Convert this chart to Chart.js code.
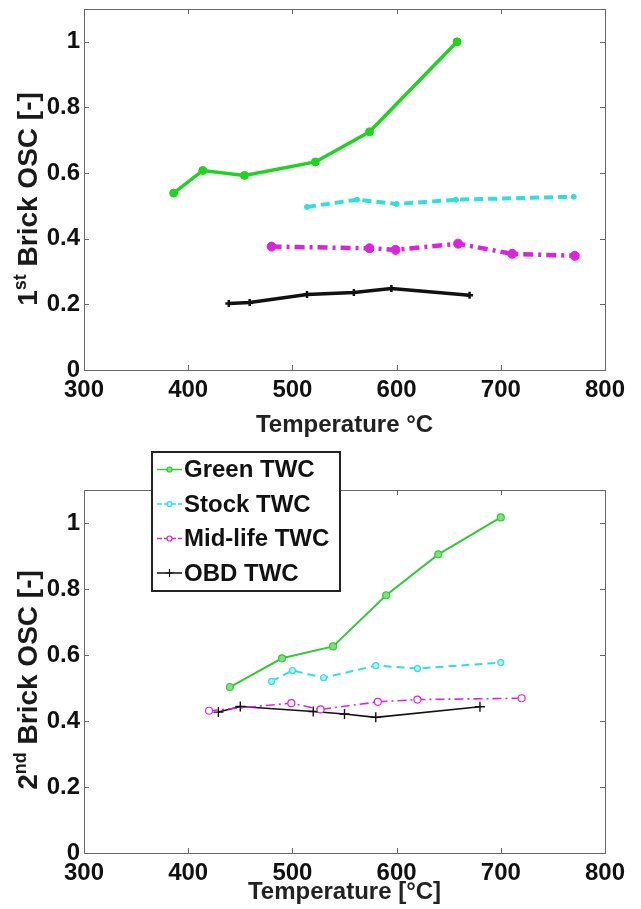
<!DOCTYPE html>
<html>
<head>
<meta charset="utf-8">
<script src="https://cdn.jsdelivr.net/npm/chart.js"></script>
<style>
  body { margin: 0; background: #fff; }
  #wrap { position: relative; width: 641px; height: 909px; overflow: hidden; }
  canvas { position: absolute; left: 0; }
  #brick1 { top: 0; }
  #brick2 { top: 450px; }
</style>
</head>
<body>
<div id="wrap">
  <canvas id="brick1" width="641" height="450"></canvas>
  <canvas id="brick2" width="641" height="459"></canvas>
</div>
<script>
const tempTicks = [300, 400, 500, 600, 700, 800];
const oscTicks = [0, 0.2, 0.4, 0.6, 0.8, 1];
const seriesNames = ['Green TWC', 'Stock TWC', 'Mid-life TWC', 'OBD TWC'];

// 1st brick
const green1T = [386, 414, 454, 522, 574, 658];
const green1Osc = [0.539, 0.608, 0.593, 0.634, 0.726, 1.0];
const stock1T = [514, 562, 600, 657, 770];
const stock1Osc = [0.497, 0.519, 0.506, 0.519, 0.528];
const mid1T = [480, 574, 599, 659, 711, 771];
const mid1Osc = [0.376, 0.371, 0.366, 0.385, 0.354, 0.348];
const obd1T = [439, 459, 514, 559, 595, 670];
const obd1Osc = [0.203, 0.206, 0.230, 0.236, 0.248, 0.228];

// 2nd brick
const green2T = [440, 490, 539, 590, 640, 700];
const green2Osc = [0.503, 0.590, 0.626, 0.781, 0.905, 1.017];
const stock2T = [480, 500, 530, 580, 620, 700];
const stock2Osc = [0.520, 0.553, 0.531, 0.568, 0.559, 0.577];
const mid2T = [420, 499, 527, 582, 620, 720];
const mid2Osc = [0.431, 0.454, 0.435, 0.458, 0.465, 0.469];
const obd2T = [429, 450, 520, 550, 580, 680];
const obd2Osc = [0.427, 0.444, 0.429, 0.421, 0.411, 0.443];

const FONT = '"Liberation Sans", Arial, Helvetica, sans-serif';
const GREEN = '#1fd41f';
const CYAN = '#2fdede';
const MAGENTA = '#dd22dd';
const BLACK = '#111111';

const pts = (t, v) => t.map((x, i) => ({ x: x, y: v[i] }));

// box around the plot with inward ticks on all four sides
const framePlugin = {
  id: 'frame',
  beforeDatasetsDraw(chart) {
    const { ctx, chartArea: a, scales } = chart;
    const len = 5;
    ctx.save();
    ctx.strokeStyle = '#666';
    ctx.lineWidth = 1;
    ctx.strokeRect(a.left + 0.5, a.top + 0.5, a.right - a.left, a.bottom - a.top);
    ctx.beginPath();
    scales.x.ticks.forEach(t => {
      const px = Math.round(scales.x.getPixelForValue(t.value)) + 0.5;
      ctx.moveTo(px, a.bottom); ctx.lineTo(px, a.bottom - len);
      ctx.moveTo(px, a.top); ctx.lineTo(px, a.top + len);
    });
    scales.y.ticks.forEach(t => {
      const py = Math.round(scales.y.getPixelForValue(t.value)) + 0.5;
      ctx.moveTo(a.left, py); ctx.lineTo(a.left + len, py);
      ctx.moveTo(a.right, py); ctx.lineTo(a.right - len, py);
    });
    ctx.stroke();
    ctx.restore();
  }
};

// rotated y title with a superscript ordinal
const yTitlePlugin = {
  id: 'yTitle',
  afterDraw(chart, args, opts) {
    const ctx = chart.ctx;
    const big = 'bold 28px ' + FONT;
    const small = 'bold 18px ' + FONT;
    ctx.save();
    ctx.font = big;
    const w1 = ctx.measureText(opts.num).width;
    const w3 = ctx.measureText(opts.rest).width;
    ctx.font = small;
    const w2 = ctx.measureText(opts.sup).width;
    const total = w1 + w2 + w3;
    ctx.translate(opts.x, opts.y);
    ctx.rotate(-Math.PI / 2);
    ctx.fillStyle = '#1a1a1a';
    ctx.textBaseline = 'alphabetic';
    let x = -total / 2;
    ctx.font = big;
    ctx.fillText(opts.num, x, 10);
    x += w1;
    ctx.font = small;
    ctx.fillText(opts.sup, x, -1);
    x += w2;
    ctx.font = big;
    ctx.fillText(opts.rest, x, 10);
    ctx.restore();
  }
};

function drawMarker(ctx, style, x, y, r, fill, stroke, lw) {
  ctx.lineWidth = lw;
  ctx.strokeStyle = stroke;
  ctx.fillStyle = fill;
  ctx.beginPath();
  if (style === 'cross') {
    ctx.moveTo(x - r, y); ctx.lineTo(x + r, y);
    ctx.moveTo(x, y - r); ctx.lineTo(x, y + r);
    ctx.stroke();
  } else {
    ctx.arc(x, y, r, 0, Math.PI * 2);
    ctx.fill();
    ctx.stroke();
  }
}

// boxed legend placed over the upper left of the plot
const boxLegendPlugin = {
  id: 'boxLegend',
  afterDraw(chart, args, opts) {
    if (!opts.show) return;
    const ctx = chart.ctx;
    ctx.save();
    ctx.fillStyle = '#fff';
    ctx.fillRect(opts.x, opts.y, opts.w, opts.h);
    ctx.strokeStyle = '#222';
    ctx.lineWidth = 2;
    ctx.strokeRect(opts.x, opts.y, opts.w, opts.h);
    ctx.font = 'bold 24px ' + FONT;
    ctx.textBaseline = 'middle';
    chart.data.datasets.forEach((ds, i) => {
      const cy = opts.y + opts.first + i * opts.rowH;
      const x0 = opts.x + 5, x1 = opts.x + 30;
      ctx.save();
      ctx.strokeStyle = ds.borderColor;
      ctx.lineWidth = 1.5;
      ctx.setLineDash(ds.borderDash ? [5, 2] : []);
      ctx.beginPath();
      ctx.moveTo(x0, cy); ctx.lineTo(x1, cy);
      ctx.stroke();
      ctx.setLineDash([]);
      drawMarker(ctx, ds.pointStyle, (x0 + x1) / 2, cy, ds.pointStyle === 'cross' ? 4 : 2.5,
        ds.pointBackgroundColor, ds.pointBorderColor, 1.2);
      ctx.restore();
      ctx.fillStyle = '#111';
      ctx.fillText(ds.label, x1 + 2, cy + 1);
    });
    ctx.restore();
  }
};

function makeOptions(cfg) {
  return {
    responsive: false,
    animation: false,
    layout: { padding: { top: cfg.top, right: 36, left: 0, bottom: 0 } },
    plugins: {
      legend: { display: false },
      tooltip: { enabled: false },
      yTitle: cfg.yTitle,
      boxLegend: cfg.legend
    },
    scales: {
      x: {
        type: 'linear',
        min: 300, max: 800,
        grid: { display: false, drawTicks: false },
        border: { display: false },
        afterBuildTicks: s => { s.ticks = tempTicks.map(v => ({ value: v })); },
        afterFit: s => { s.height = cfg.xHeight; s.paddingLeft = 0; s.paddingRight = 0; },
        ticks: {
          padding: 6,
          color: '#111',
          font: { family: FONT, size: 24, weight: 'bold' },
          maxRotation: 0,
          callback: v => String(v)
        },
        title: {
          display: true,
          text: cfg.xTitle,
          color: '#222',
          font: { family: FONT, size: 24, weight: 'bold' },
          padding: { top: 0, bottom: cfg.xTitlePad }
        }
      },
      y: {
        type: 'linear',
        min: 0, max: 1.1,
        grid: { display: false, drawTicks: false },
        border: { display: false },
        afterBuildTicks: s => { s.ticks = oscTicks.map(v => ({ value: v })); },
        afterFit: s => { s.width = 84; s.paddingTop = 0; s.paddingBottom = 0; },
        ticks: {
          padding: 4,
          color: '#111',
          font: { family: FONT, size: 24, weight: 'bold' },
          callback: v => String(v)
        }
      }
    }
  };
}

function line(label, data, color, o) {
  return Object.assign({
    label: label,
    data: data,
    borderColor: color,
    backgroundColor: color,
    pointBorderColor: color,
    pointBackgroundColor: color,
    pointStyle: 'circle',
    fill: false,
    tension: 0
  }, o);
}

new Chart(document.getElementById('brick1'), {
  type: 'line',
  data: {
    datasets: [
      line(seriesNames[0], pts(green1T, green1Osc), GREEN, { borderWidth: 3.5, pointRadius: 4, pointBorderWidth: 1 }),
      line(seriesNames[1], pts(stock1T, stock1Osc), CYAN, { borderWidth: 4, borderDash: [9, 5], pointRadius: 2.5, pointBorderWidth: 1 }),
      line(seriesNames[2], pts(mid1T, mid1Osc), MAGENTA, { borderWidth: 4.5, borderDash: [10, 5, 3, 5], pointRadius: 4.5, pointBorderWidth: 1 }),
      line(seriesNames[3], pts(obd1T, obd1Osc), BLACK, { borderWidth: 3.5, pointStyle: 'cross', pointRadius: 3.5, pointBorderWidth: 2.5 })
    ]
  },
  options: makeOptions({
    top: 9,
    xHeight: 80,
    xTitle: 'Temperature °C',
    xTitlePad: 10,
    yTitle: { num: '1', sup: 'st', rest: ' Brick OSC [-]', x: 27, y: 199 },
    legend: { show: false }
  }),
  plugins: [framePlugin, yTitlePlugin, boxLegendPlugin]
});

new Chart(document.getElementById('brick2'), {
  type: 'line',
  data: {
    datasets: [
      line(seriesNames[0], pts(green2T, green2Osc), '#35c835', { borderWidth: 2, pointRadius: 3.5, pointBorderWidth: 1.2, pointBackgroundColor: '#7ee07e' }),
      line(seriesNames[1], pts(stock2T, stock2Osc), CYAN, { borderWidth: 2, borderDash: [8, 5], pointRadius: 3, pointBorderWidth: 1.2, pointBackgroundColor: '#aef2f2' }),
      line(seriesNames[2], pts(mid2T, mid2Osc), MAGENTA, { borderWidth: 1.6, borderDash: [9, 4, 2, 4], pointRadius: 3.5, pointBorderWidth: 1.2, pointBackgroundColor: '#ffffff' }),
      line(seriesNames[3], pts(obd2T, obd2Osc), BLACK, { borderWidth: 1.6, pointStyle: 'cross', pointRadius: 5, pointBorderWidth: 1.4 })
    ]
  },
  options: makeOptions({
    top: 40,
    xHeight: 56,
    xTitle: 'Temperature [°C]',
    xTitlePad: 2,
    yTitle: { num: '2', sup: 'nd', rest: ' Brick OSC [-]', x: 27, y: 230 },
    legend: { show: true, x: 152, y: 2, w: 188, h: 139, first: 17.5, rowH: 34.5 }
  }),
  plugins: [framePlugin, yTitlePlugin, boxLegendPlugin]
});
</script>
</body>
</html>
